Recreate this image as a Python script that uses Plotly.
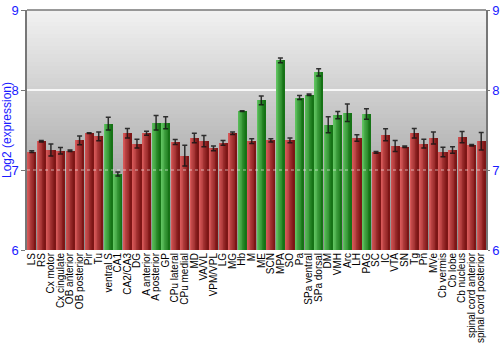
import plotly.graph_objects as go

categories = ["LS", "RS", "Cx motor", "Cx cingulate", "OB anterior", "OB posterior", "Pir", "Tu",
              "ventral S", "CA1", "CA2/CA3", "DG", "A anterior", "A posterior", "GP", "CPu lateral",
              "CPu medial", "MD", "VA/VL", "VPM/VPL", "LG", "MG", "Hb", "M", "ME", "SCN", "MPA", "SO",
              "Pa", "SPa ventral", "SPa dorsal", "DM", "VMH", "Arc", "LH", "PAG", "SC", "IC", "VTA",
              "SN", "Tg", "Pn", "MVe", "Cb vermis", "Cb lobe", "Cb nucleus", "spinal cord anterior",
              "spinal cord posterior"]
values = [7.23, 7.36, 7.25, 7.24, 7.24, 7.37, 7.46, 7.42,
          7.58, 6.95, 7.46, 7.33, 7.46, 7.59, 7.59, 7.35,
          7.18, 7.40, 7.36, 7.27, 7.34, 7.46, 7.735, 7.36, 7.87, 7.37, 8.37, 7.37,
          7.905, 7.94, 8.22, 7.565, 7.685, 7.715, 7.40, 7.70, 7.22, 7.44, 7.30,
          7.29, 7.46, 7.33, 7.40, 7.225, 7.25, 7.41, 7.31,
          7.36]
errors = [0.01, 0.01, 0.075, 0.04, 0.01, 0.055, 0.005, 0.055,
          0.08, 0.025, 0.06, 0.055, 0.025, 0.09, 0.075, 0.03,
          0.13, 0.06, 0.07, 0.03, 0.03, 0.015, 0.005, 0.03, 0.055, 0.02, 0.03, 0.03,
          0.025, 0.01, 0.045, 0.1, 0.045, 0.11, 0.04, 0.065, 0.01, 0.075, 0.07,
          0.01, 0.06, 0.055, 0.075, 0.06, 0.04, 0.07, 0.01,
          0.11]
groups = ["r", "r", "r", "r", "r", "r", "r", "r",
          "g", "g", "r", "r", "r", "g", "g", "r",
          "r", "r", "r", "r", "r", "r", "g", "r", "g", "r", "g", "r",
          "g", "g", "g", "g", "g", "g", "r", "g", "r", "r", "r",
          "r", "r", "r", "r", "r", "r", "r", "r",
          "r"]
y_ticks = [6, 7, 8, 9]

def lerp(c1, c2, t):
    return "rgb(%d,%d,%d)" % tuple(round(a + (b - a) * t) for a, b in zip(c1, c2))

red_l, red_d = (214, 88, 88), (125, 22, 22)
grn_l, grn_d = (95, 195, 95), (22, 115, 22)

fig = go.Figure()
W = 0.84
N = 10
for k in range(N):
    t = k / (N - 1)
    cols = [lerp(red_l, red_d, t) if g == "r" else lerp(grn_l, grn_d, t) for g in groups]
    fig.add_trace(go.Bar(
        x=categories, y=[v - 6 for v in values], base=6,
        width=W / N + 0.01, offset=-W / 2 + k * W / N,
        marker=dict(color=cols, line=dict(width=0)),
        showlegend=False, hoverinfo="skip"))

fig.add_trace(go.Scatter(
    x=categories, y=values, mode="markers",
    marker=dict(size=1, color="rgba(0,0,0,0)"),
    error_y=dict(type="data", array=errors, color="rgba(20,20,20,0.85)", thickness=1.5, width=2.5),
    showlegend=False))

# invisible trace for the right axis
fig.add_trace(go.Scatter(x=[categories[0]], y=[6], yaxis="y2", mode="markers",
                         marker=dict(color="rgba(0,0,0,0)"), showlegend=False, hoverinfo="skip"))

shapes = []
S = 60
top, bot = (242, 242, 242), (140, 140, 140)
for i in range(S):
    y0 = i / S
    y1 = (i + 1) / S
    t = 1 - (i + 0.5) / S
    shapes.append(dict(type="rect", xref="paper", yref="paper", x0=0, x1=1, y0=y0, y1=y1,
                       fillcolor=lerp(top, bot, t), line=dict(width=0), layer="below"))
shapes.append(dict(type="line", xref="paper", yref="y", x0=0, x1=1, y0=8, y1=8,
                   line=dict(color="rgba(255,255,255,0.85)", width=2), layer="below"))
shapes.append(dict(type="line", xref="paper", yref="y", x0=0, x1=1, y0=7, y1=7,
                   line=dict(color="rgba(255,255,255,0.6)", width=1, dash="dot"), layer="above"))
shapes.append(dict(type="line", xref="paper", yref="paper", x0=0, x1=1, y0=1, y1=1,
                   line=dict(color="#777", width=1.5)))

blue = "#1a1aff"
fig.update_layout(
    width=500, height=350,
    margin=dict(l=27, r=14, t=10, b=100),
    paper_bgcolor="white", plot_bgcolor="rgba(0,0,0,0)",
    barmode="overlay", bargap=0,
    font=dict(family="Liberation Sans, Arial, sans-serif", color="black"),
    shapes=shapes,
    xaxis=dict(tickangle=-90, tickfont=dict(size=10, color="black"), showgrid=False,
               tickmode="array", tickvals=categories, ticktext=categories,
               showline=False, ticks="", range=[-0.5, len(categories) - 0.5], automargin=False),
    yaxis=dict(range=[6, 9], tickvals=y_ticks, showgrid=False, zeroline=False,
               showline=True, linecolor="#777", linewidth=1.5, ticks="outside", ticklen=4,
               tickcolor="#777", tickfont=dict(size=13, color=blue),
               title=dict(text="Log2 (expression)", font=dict(size=12, color=blue), standoff=2),
               automargin=False),
    yaxis2=dict(range=[6, 9], tickvals=y_ticks, overlaying="y", side="right",
                showgrid=False, zeroline=False, showline=True, linecolor="#777", linewidth=1.5,
                ticks="outside", ticklen=2, tickcolor="#777", tickfont=dict(size=13, color=blue),
                automargin=False),
)

fig.write_html("out.html")
